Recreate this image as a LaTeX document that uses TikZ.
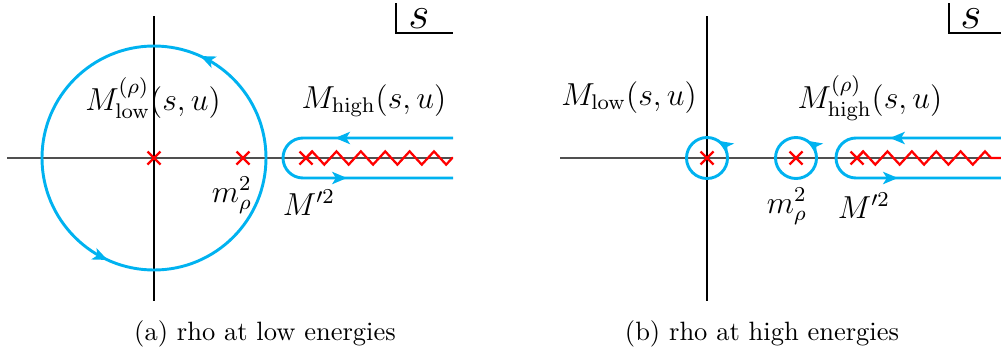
\documentclass[tikz,border=0pt]{standalone}
\usetikzlibrary{arrows.meta,decorations.markings,decorations.pathmorphing,calc}
\definecolor{cont}{RGB}{0,178,240}
\definecolor{axisgray}{RGB}{80,80,80}
\begin{document}
\begin{tikzpicture}[x=0.3774pt,y=0.3774pt,
  axish/.style={draw=axisgray,line width=0.7pt},
  axisv/.style={draw=black,line width=0.5pt},
  contour/.style={draw=cont,line width=1.1pt},
  cut/.style={draw=red,line width=0.85pt,decorate,decoration={zigzag,segment length=9.2pt,amplitude=2.5pt}},
  pole/.style={draw=red,line width=0.85pt},
  lbl/.style={font=\large,anchor=base,inner sep=0pt},
  captxt/.style={font=\normalsize,anchor=base,inner sep=0pt},
  corner/.style={font=\LARGE,anchor=base,inner sep=0pt}]
\def\tip{\arrow[cont]{Stealth[length=5.6pt,width=4.6pt,inset=1.4pt]}}
\useasboundingbox (0,0) rectangle (1001,352);
% ---------- panel (a)
\coordinate (aO) at (154,194);
\coordinate (aR) at (243,194);
\coordinate (aB) at (306,194);
\coordinate (aE) at (453,194);
\draw[axish] (7,194) -- (aE);
\draw[axisv] (154,336) -- (154,51);
\draw[contour,postaction={decorate,decoration={markings,
   mark=at position 0.182 with {\tip},
   mark=at position 0.682 with {\tip}}}]
  (266,194) arc (0:360:112);
\draw[contour,postaction={decorate,decoration={markings,
   mark=at position 0.325 with {\tip},
   mark=at position 0.708 with {\tip}}}]
  (453,214) -- (303,214) arc (90:270:20) -- (453,174);
\draw[cut] (aB) -- (aE);
\foreach \p in {aO,aR,aB}{
  \draw[pole] ($(\p)+(-6.5,-6.5)$) -- ($(\p)+(6.5,6.5)$);
  \draw[pole] ($(\p)+(-6.5,6.5)$) -- ($(\p)+(6.5,-6.5)$);
}
\draw[axisv] (396,349) -- (396,319) -- (453,319);
\node[corner] (as) at (419,324) {$s$};
\node[lbl] (alow) at (153,242) {$M^{(\rho)}_{\mathrm{low}}(s,u)$};
\node[lbl] (ahigh) at (374,244) {$M_{\mathrm{high}}(s,u)$};
\node[lbl] (amr) at (232,150) {$m_\rho^2$};
\node[lbl] (aMp) at (309,137) {$M'^2$};
\node[captxt] (capa) at (265,12) {(a) rho at low energies};
% ---------- panel (b)
\coordinate (bO) at (707,194);
\coordinate (bR) at (796,194);
\coordinate (bB) at (857,194);
\coordinate (bE) at (1001,194);
\draw[axish] (560,194) -- (bE);
\draw[axisv] (707,336) -- (707,51);
\foreach \c in {707,796}{
\draw[contour,postaction={decorate,decoration={markings,
   mark=at position 0.16 with {\tip}}}]
  (\c+20.5,194) arc (0:360:20.5);
}
\draw[contour,postaction={decorate,decoration={markings,
   mark=at position 0.315 with {\tip},
   mark=at position 0.708 with {\tip}}}]
  (1001,214) -- (856,214) arc (90:270:20) -- (1001,174);
\draw[cut] (bB) -- (bE);
\foreach \p in {bO,bR,bB}{
  \draw[pole] ($(\p)+(-6.5,-6.5)$) -- ($(\p)+(6.5,6.5)$);
  \draw[pole] ($(\p)+(-6.5,6.5)$) -- ($(\p)+(6.5,-6.5)$);
}
\draw[axisv] (949,349) -- (949,319) -- (1001,319);
\node[corner] (bs) at (971,324) {$s$};
\node[lbl] (blow) at (629,247) {$M_{\mathrm{low}}(s,u)$};
\node[lbl] (bhigh) at (870,244) {$M^{(\rho)}_{\mathrm{high}}(s,u)$};
\node[lbl] (bmr) at (787,139) {$m_\rho^2$};
\node[lbl] (bMp) at (864,134) {$M'^2$};
\node[captxt] (capb) at (762,12) {(b) rho at high energies};
\end{tikzpicture}
\end{document}
